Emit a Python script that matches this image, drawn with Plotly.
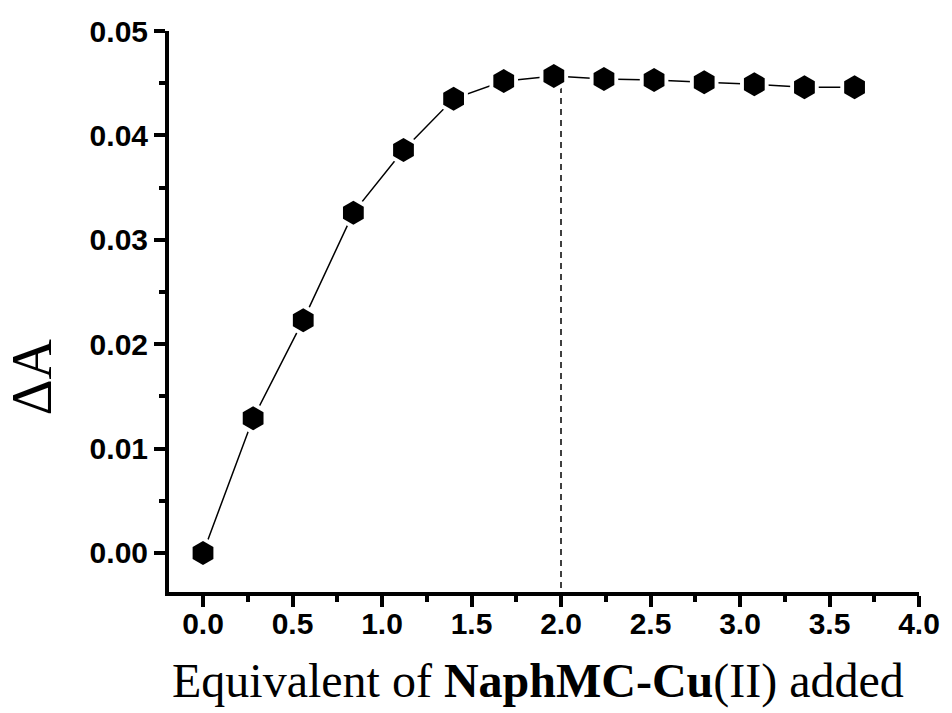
import plotly.graph_objects as go

# Titration data: equivalents of NaphMC-Cu(II) added vs. absorbance change
equivalents = [0.00, 0.28, 0.56, 0.84, 1.12, 1.40, 1.68, 1.96, 2.24, 2.52, 2.80, 3.08, 3.36, 3.64]
delta_a = [0.0000, 0.0129, 0.0223, 0.0326, 0.0386, 0.0435, 0.0452, 0.0457,
           0.0454, 0.0453, 0.0451, 0.0449, 0.0446, 0.0446]

# Saturation marker at 2.0 equivalents
sat_x = [2.0, 2.0]
sat_y = [0.0457, -0.00374]

x_ticks = [0.0, 0.5, 1.0, 1.5, 2.0, 2.5, 3.0, 3.5, 4.0]
y_ticks = [0.00, 0.01, 0.02, 0.03, 0.04, 0.05]

x_range = [-0.190, 4.0]
y_range = [-0.00374, 0.05]

tick_font = dict(family="Arial, Liberation Sans, sans-serif", size=30, color="black", weight="bold")
serif = "Times New Roman, Liberation Serif, serif"

fig = go.Figure()

# connecting line
fig.add_trace(go.Scatter(x=equivalents, y=delta_a, mode="lines",
                         line=dict(color="black", width=1.5), hoverinfo="skip"))
# dashed drop line
fig.add_trace(go.Scatter(x=sat_x, y=sat_y, mode="lines",
                         line=dict(color="black", width=1.5, dash="6px,5px"), hoverinfo="skip"))
# white halo so the line stops short of each marker
fig.add_trace(go.Scatter(x=equivalents, y=delta_a, mode="markers",
                         marker=dict(symbol="hexagon", size=33, color="white",
                                     line=dict(width=0)), hoverinfo="skip"))
# data markers
fig.add_trace(go.Scatter(x=equivalents, y=delta_a, mode="markers",
                         marker=dict(symbol="hexagon", size=24, color="black",
                                     line=dict(width=0))))

axis_common = dict(
    showline=True, linecolor="black", linewidth=4, mirror=False,
    showgrid=False, zeroline=False,
    ticks="outside", ticklen=11, tickwidth=4, tickcolor="black",
    tickfont=tick_font,
)

fig.update_xaxes(range=x_range, tickvals=x_ticks, tickformat=".1f",
                 ticklabelstandoff=-9,
                 minor=dict(dtick=0.25, tick0=0, ticks="outside", ticklen=6,
                            tickwidth=4, tickcolor="black", showgrid=False),
                 **axis_common)
fig.update_yaxes(range=y_range, tickvals=y_ticks, tickformat=".2f",
                 minor=dict(dtick=0.005, tick0=0, ticks="outside", ticklen=6,
                            tickwidth=4, tickcolor="black", showgrid=False),
                 **axis_common)

fig.add_annotation(text="Equivalent of <b>NaphMC-Cu</b>(II) added",
                   xref="paper", yref="paper", x=0.4914, y=-0.1586,
                   xanchor="center", yanchor="middle", showarrow=False,
                   font=dict(family=serif, size=48, color="black"))
fig.add_annotation(text="ΔA", xref="paper", yref="paper", x=-0.1828, y=0.384,
                   xanchor="center", yanchor="middle", showarrow=False, textangle=-90,
                   font=dict(family=serif, size=56, color="black"))

fig.update_layout(
    width=952, height=713,
    margin=dict(l=169, r=28, t=31, b=121),
    paper_bgcolor="white", plot_bgcolor="white",
    showlegend=False,
)

fig.write_html("out.html")
